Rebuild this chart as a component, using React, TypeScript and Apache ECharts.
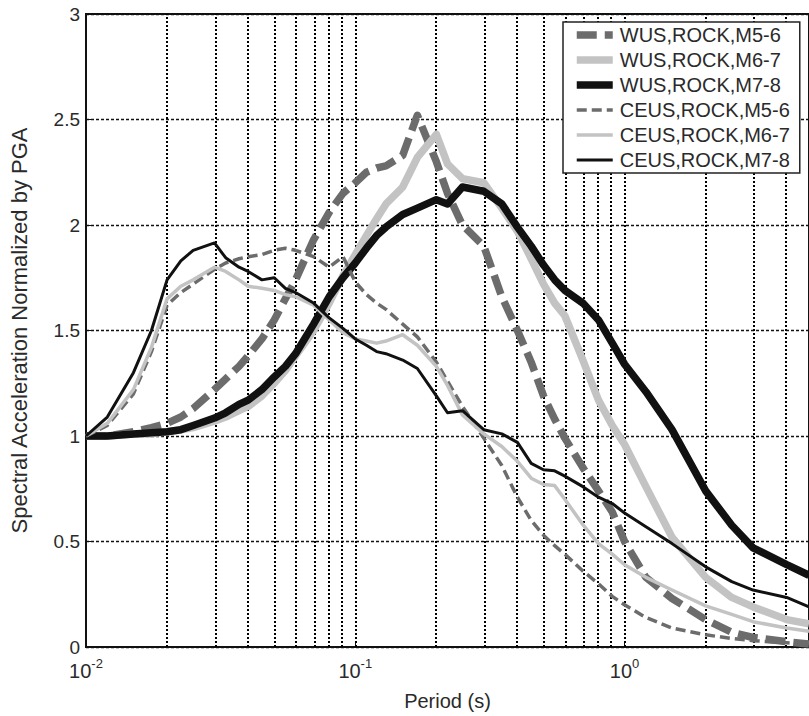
import React, { useEffect, useRef } from "react";
import * as echarts from "echarts";

// Periods (s) at which the spectra were read
const periods = [
  0.01, 0.012, 0.015, 0.0175, 0.02, 0.0225, 0.025, 0.03, 0.033, 0.037,
  0.04, 0.045, 0.05, 0.055, 0.06, 0.07, 0.08, 0.09, 0.1, 0.11,
  0.12, 0.13, 0.15, 0.17, 0.2, 0.22, 0.25, 0.3, 0.35, 0.4,
  0.45, 0.5, 0.55, 0.6, 0.7, 0.8, 0.9, 1, 1.2, 1.5,
  2, 2.5, 3, 4, 4.84,
];

const wusM56 = [
  1.0, 1.0, 1.02, 1.04, 1.06, 1.09, 1.13, 1.22, 1.27, 1.33,
  1.38, 1.46, 1.55, 1.65, 1.74, 1.93, 2.06, 2.15, 2.2, 2.25,
  2.27, 2.28, 2.33, 2.52, 2.3, 2.15, 2.0, 1.9, 1.66, 1.5,
  1.35, 1.19, 1.08, 0.99, 0.85, 0.74, 0.64, 0.5, 0.33, 0.23,
  0.13, 0.07, 0.045, 0.025, 0.014,
];
const wusM67 = [
  1.0, 1.0, 1.01, 1.01, 1.02, 1.03, 1.04, 1.07, 1.09, 1.12,
  1.14, 1.19, 1.25, 1.31, 1.38, 1.5, 1.63, 1.76, 1.86, 1.95,
  2.03, 2.1, 2.18, 2.32, 2.43, 2.29, 2.22, 2.2, 2.08, 1.97,
  1.84, 1.72, 1.63, 1.57, 1.36, 1.17, 1.05, 0.96, 0.76, 0.52,
  0.33, 0.235, 0.19, 0.13, 0.11,
];
const wusM78 = [
  1.0, 1.0, 1.01, 1.015, 1.02, 1.03, 1.05, 1.085, 1.11, 1.15,
  1.17, 1.22, 1.28, 1.33, 1.39, 1.53, 1.66, 1.75, 1.82, 1.89,
  1.95, 1.99, 2.05, 2.08, 2.12, 2.1, 2.18, 2.16, 2.1, 1.99,
  1.9, 1.81, 1.74, 1.69, 1.63, 1.55, 1.44, 1.34, 1.21, 1.03,
  0.74, 0.577, 0.47, 0.39, 0.34,
];
const ceusM56 = [
  1.0, 1.05, 1.2, 1.4, 1.62, 1.68, 1.72, 1.79, 1.82, 1.84,
  1.85, 1.86, 1.88, 1.89, 1.88, 1.85, 1.8, 1.85, 1.73, 1.67,
  1.63, 1.6, 1.53, 1.47, 1.35, 1.26, 1.14, 0.99, 0.86, 0.71,
  0.6, 0.53, 0.48, 0.44, 0.36, 0.3, 0.24, 0.2, 0.14, 0.09,
  0.058, 0.04, 0.03, 0.02, 0.014,
];
const ceusM67 = [
  1.0, 1.06, 1.22, 1.42, 1.65, 1.71, 1.74, 1.8, 1.78, 1.74,
  1.71, 1.7, 1.69, 1.67, 1.66, 1.62, 1.55, 1.49, 1.46, 1.45,
  1.44, 1.45, 1.48, 1.43, 1.33, 1.24, 1.1, 1.01, 0.95, 0.88,
  0.8, 0.77, 0.765, 0.7, 0.58, 0.49, 0.44, 0.39, 0.33, 0.27,
  0.195, 0.155, 0.12, 0.09, 0.075,
];
const ceusM78 = [
  1.0, 1.09, 1.3, 1.5, 1.74, 1.83, 1.88, 1.915, 1.845, 1.8,
  1.78, 1.74, 1.75, 1.7, 1.68, 1.63, 1.56, 1.51, 1.46, 1.43,
  1.4, 1.39, 1.36, 1.32, 1.19, 1.11, 1.12, 1.03, 1.01, 0.97,
  0.87, 0.84, 0.835, 0.81, 0.76, 0.71, 0.68, 0.635, 0.57, 0.49,
  0.38, 0.31, 0.27, 0.235, 0.19,
];

const seriesNames = [
  "WUS,ROCK,M5-6",
  "WUS,ROCK,M6-7",
  "WUS,ROCK,M7-8",
  "CEUS,ROCK,M5-6",
  "CEUS,ROCK,M6-7",
  "CEUS,ROCK,M7-8",
];
const seriesValues = [wusM56, wusM67, wusM78, ceusM56, ceusM67, ceusM78];

// Vertical grid lines (periods, s)
const gridPeriods = [
  0.02, 0.03, 0.04, 0.05, 0.06, 0.07, 0.08, 0.09,
  0.1, 0.2, 0.3, 0.4, 0.5, 0.6, 0.7, 0.8, 0.9,
  1, 2, 3, 4,
];
const X_MIN_PERIOD = 0.01;
const X_MAX_PERIOD = 4.84;

const DARK = "#6c6c6c";
const LIGHT = "#c3c3c3";
const BLACK = "#111111";
const FONT = "'Liberation Sans', Arial, sans-serif";

const seriesStyles = [
  { color: DARK, width: 7.5, type: [20, 8] as any },
  { color: LIGHT, width: 7.5, type: "solid" as any },
  { color: BLACK, width: 7.5, type: "solid" as any },
  { color: DARK, width: 3.5, type: [10, 5] as any },
  { color: LIGHT, width: 3.5, type: "solid" as any },
  { color: BLACK, width: 3, type: "solid" as any },
];

export default function App() {
  const ref = useRef<HTMLDivElement>(null);

  useEffect(() => {
    if (!ref.current) return;
    const chart = echarts.init(ref.current, null, { renderer: "svg" });

    const lines = seriesNames.map((name, k) => ({
      name,
      type: "line",
      data: periods.map((p, i) => [Math.log10(p), seriesValues[k][i]]),
      symbol: "none",
      showSymbol: false,
      smooth: false,
      lineStyle: {
        color: seriesStyles[k].color,
        width: seriesStyles[k].width,
        type: seriesStyles[k].type,
        cap: "butt",
        join: "round",
      },
      itemStyle: { color: seriesStyles[k].color },
      z: 3 + k,
    }));

    const option: any = {
      animation: false,
      backgroundColor: "#ffffff",
      textStyle: { fontFamily: FONT },
      grid: {
        left: 71,
        top: 14,
        right: -2,
        bottom: 63,
        show: true,
        borderColor: "#111",
        borderWidth: 2,
        backgroundColor: "#fff",
      },
      legend: {
        data: seriesNames,
        orient: "vertical",
        left: 563,
        top: 22,
        z: 30,
        zlevel: 0,
        padding: [3, 10, 3, 10],
        itemGap: 5,
        itemWidth: 36,
        itemHeight: 14,
        itemStyle: { opacity: 0 },
        lineStyle: { width: "inherit", type: "inherit", cap: "butt" },
        backgroundColor: "#ffffff",
        borderColor: "#222",
        borderWidth: 1.5,
        borderRadius: 0,
        textStyle: {
          fontFamily: FONT,
          fontSize: 20,
          lineHeight: 20,
          color: "#2a2a2a",
          padding: [0, 0, 0, 2],
        },
      },
      xAxis: {
        type: "value",
        min: Math.log10(X_MIN_PERIOD),
        max: Math.log10(X_MAX_PERIOD),
        interval: 1,
        name: "Period (s)",
        nameLocation: "middle",
        nameGap: 44,
        nameTextStyle: { fontFamily: FONT, fontSize: 20, color: "#2a2a2a" },
        axisLine: { show: true, onZero: false, lineStyle: { color: "#111", width: 2 } },
        axisTick: { show: true, inside: true, length: 6, lineStyle: { color: "#111" } },
        splitLine: { show: false },
        axisLabel: {
          margin: 10,
          showMaxLabel: false,
          formatter: (v: number) => {
            const r = Math.round(v);
            if (Math.abs(v - r) > 1e-6) return "";
            return `{b|10}{s|${r}}`;
          },
          rich: {
            b: { fontFamily: FONT, fontSize: 20, lineHeight: 24, color: "#2a2a2a", verticalAlign: "bottom" },
            s: { fontFamily: FONT, fontSize: 13, lineHeight: 13, color: "#2a2a2a", verticalAlign: "top" },
          },
        },
      },
      yAxis: {
        type: "value",
        min: 0,
        max: 3,
        interval: 0.5,
        name: "Spectral Acceleration Normalized by PGA",
        nameLocation: "middle",
        nameRotate: 90,
        nameGap: 56,
        nameTextStyle: { fontFamily: FONT, fontSize: 22, color: "#2a2a2a" },
        axisLine: { show: true, onZero: false, lineStyle: { color: "#111", width: 2 } },
        axisTick: { show: true, inside: true, length: 6, lineStyle: { color: "#111" } },
        axisLabel: {
          fontFamily: FONT,
          fontSize: 19,
          color: "#2a2a2a",
          margin: 6,
        },
        splitLine: {
          show: true,
          lineStyle: { color: "#111", width: 1.4, type: [3, 2] },
        },
      },
      series: [
        {
          type: "line",
          data: [],
          symbol: "none",
          silent: true,
          z: 1,
          markLine: {
            silent: true,
            z: 1,
            symbol: ["none", "none"],
            label: { show: false },
            lineStyle: { color: "#000", width: 2, type: [2, 2] },
            emphasis: { disabled: true },
            data: gridPeriods.map((p) => ({ xAxis: Math.log10(p) })),
          },
        },
        ...lines,
      ],
    };

    chart.setOption(option);
    return () => chart.dispose();
  }, []);

  return (
    <div
      ref={ref}
      style={{ position: "fixed", left: 0, top: 0, width: 809, height: 716, background: "#fff" }}
    />
  );
}
